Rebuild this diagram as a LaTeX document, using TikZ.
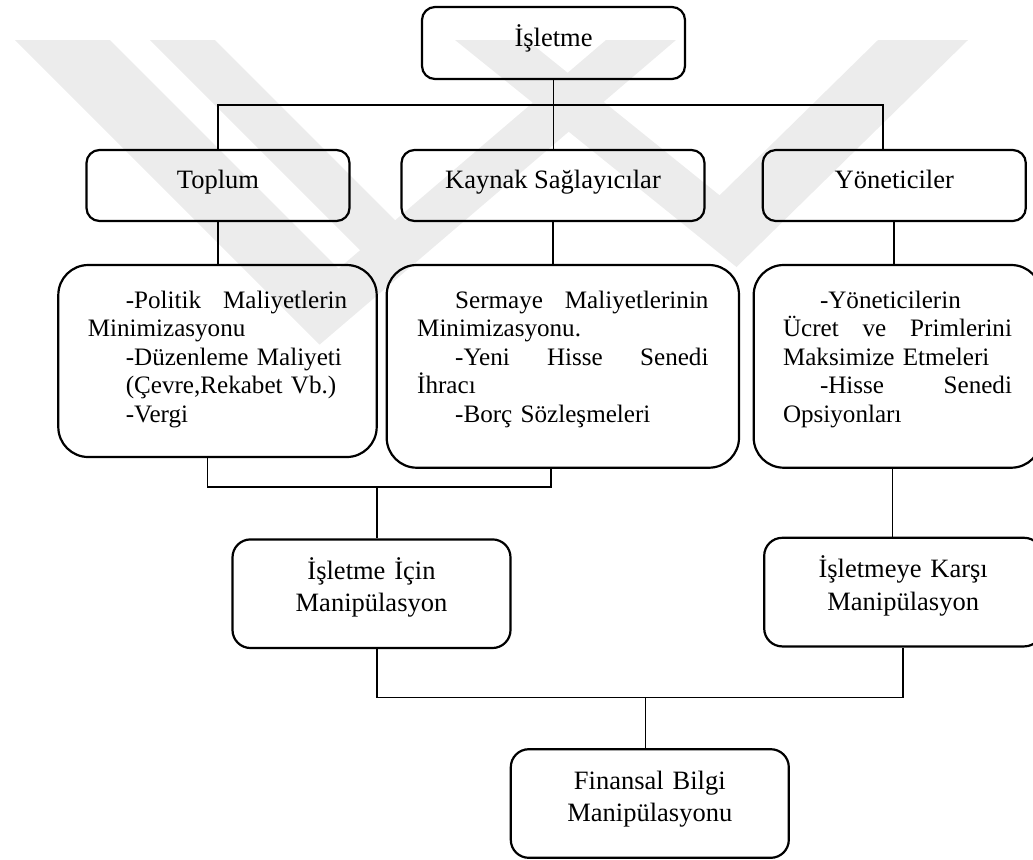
\documentclass[tikz,border=0pt]{standalone}
\usepackage{fontspec}
\setmainfont{Liberation Serif}
\usepackage{tikz}
\usetikzlibrary{positioning,calc}
\definecolor{filigranGri}{RGB}{236,236,236}

\begin{document}
\begin{tikzpicture}[x=0.5pt,y=-0.5pt,
    bag/.style={line width=0.85pt},
    kutu/.style={draw,line width=1.1pt,rounded corners=6.5pt,inner sep=0pt,
        font=\fontsize{13.25pt}{16pt}\selectfont,text height=7pt,text depth=4pt},
    detay/.style={draw,line width=1.1pt,rounded corners=15pt,inner sep=0pt,align=left,
        font=\fontsize{12.55pt}{14.25pt}\selectfont,text height=10pt},
    altkutu/.style={draw,line width=1.1pt,rounded corners=9pt,inner sep=0pt,align=center,
        text width=130pt,minimum width=139pt,minimum height=54.3pt,
        font=\fontsize{13.25pt}{16.35pt}\selectfont,text height=10pt,text depth=24.5pt},
    filigran/.style={fill=filigranGri}]
    \useasboundingbox (0,0) rectangle (1033,859);
    \clip (0,0) rectangle (1033,859);

    % Filigran (arka plan)
    \fill[filigran] (15,40) -- (110,40) -- (338.6,268.6) -- (606,40) -- (676,40) -- (319.6,344.6) -- cycle;
    \fill[filigran] (150,40) -- (215,40) -- (427,252) -- (392,282) -- cycle;
    \fill[filigran] (455,40) -- (527,40) -- (719.6,195.3) -- (878,40) -- (968,40) -- (736.5,267) -- cycle;

    % Ust kademe
    \node[kutu,minimum width=131.5pt,minimum height=36pt] (isletme) at (553.5,43) {İşletme};
    \node[kutu,minimum width=131.5pt,minimum height=35.5pt] (toplum) at (218,185.5) {Toplum};
    \node[kutu,minimum width=151.5pt,minimum height=35.5pt] (kaynak) at (553,185.5) {Kaynak Sağlayıcılar};
    \node[kutu,minimum width=131.5pt,minimum height=35.5pt] (yonetici) at (894.3,185.5) {Yöneticiler};

    % Detay kutulari
    \node[detay,text width=129.7pt,minimum width=159.2pt,minimum height=96pt,text depth=62.7pt] (politik) at (217.5,361)
        {\hspace*{19pt}-Politik \hfill Maliyetlerin\\
         Minimizasyonu\\
         \hspace*{19pt}-Düzenleme Maliyeti\\
         \hspace*{19pt}(Çevre,Rekabet Vb.)\\
         \hspace*{19pt}-Vergi};
    \node[detay,text width=145.65pt,minimum width=176.15pt,minimum height=101.35pt,text depth=68pt] (sermaye) at (562.85,366.35)
        {\hspace*{19pt}Sermaye \hfill Maliyetlerinin\\
         Minimizasyonu.\\
         \hspace*{19pt}-Yeni \hfill Hisse \hfill Senedi\\
         İhracı\\
         \hspace*{19pt}-Borç Sözleşmeleri};
    \node[detay,text width=114.5pt,minimum width=143.8pt,minimum height=101.35pt,text depth=68pt] (ucret) at (897.5,366.35)
        {\hspace*{18.5pt}-Yöneticilerin\\
         Ücret \hfill ve \hfill Primlerini\\
         Maksimize Etmeleri\\
         \hspace*{18.5pt}-Hisse \hfill Senedi\\
         Opsiyonları};

    % Manipulasyon kutulari
    \node[altkutu] (icin) at (371.5,593.7) {İşletme İçin\\Manipülasyon};
    \node[altkutu] (karsi) at (903.2,592.1) {İşletmeye Karşı\\Manipülasyon};
    \node[altkutu] (finans) at (649.8,803.5) {Finansal Bilgi\\Manipülasyonu};

    % Baglantilar
    \coordinate (ustbar) at (553.5,105);
    \coordinate (solbar) at (377,487.3);
    \coordinate (altbar) at (645.6,697.5);

    \draw[bag] (isletme.south) -- (isletme.south |- kaynak.north);
    \draw[bag] (toplum.north) |- (ustbar) -| ([xshift=-5.5pt]yonetici.north);
    \draw[bag] (toplum.south) -- (toplum.south |- politik.north);
    \draw[bag] (kaynak.south) -- (kaynak.south |- sermaye.north);
    \draw[bag] (yonetici.south) -- (yonetici.south |- ucret.north);
    \draw[bag] ([xshift=-5pt]politik.south) |- (solbar) -| ([xshift=-6pt]sermaye.south);
    \draw[bag] (solbar) -- (solbar |- icin.north);
    \draw[bag] ([xshift=-2.5pt]ucret.south) -- ([xshift=-2.5pt]ucret.south |- karsi.north);
    \draw[bag] (solbar |- icin.south) |- (altbar) -| (karsi.south);
    \draw[bag] (altbar) -- (altbar |- finans.north);
\end{tikzpicture}
\end{document}
